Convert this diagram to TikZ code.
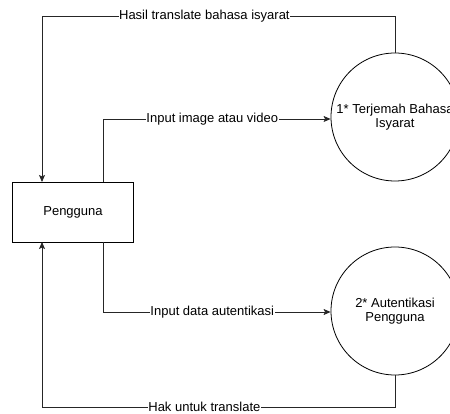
\documentclass[tikz,border=0pt]{standalone}
\usepackage{fontspec}
\setmainfont{Liberation Sans}
\usetikzlibrary{positioning,arrows.meta}
\tikzset{entity node/.style={rectangle,draw,line width=0.8pt,minimum width=121pt,minimum height=60pt,inner sep=0pt},
  process node/.style={circle,draw,line width=0.8pt,minimum size=128pt,inner sep=0pt,align=center},
  flow/.style={draw=black!85,line width=0.8pt},
  flow arrow/.style={flow,-{Stealth[length=7pt,width=6pt,inset=1.5pt]}},
  flow label/.style={fill=white,inner sep=0.5pt,font=\fontsize{13}{14}\selectfont}}

\begin{document}
\begin{tikzpicture}[x=1pt,y=-1pt,font=\fontsize{13}{14}\selectfont]
            \useasboundingbox (0,0) rectangle (450,414);
            \node[entity node] (P) at (73,212) {Pengguna};
            \node[process node] (T1) at (395,117) {1* Terjemah Bahasa\\Isyarat};
            \node[process node] (T2) at (395,311) {2* Autentikasi\\Pengguna};
            
            \coordinate (a1) at (42,16);
            \coordinate (b1) at (395,16);
            \coordinate (a2) at (42,407);
            \coordinate (b2) at (395,407);
            \coordinate (c1) at (103,119);
            \coordinate (c2) at (103,312);
            \coordinate (d1) at (42,182);
            \coordinate (d2) at (42,242);
            \coordinate (e1) at (103,182);
            \coordinate (e2) at (103,242);
            
            \draw[flow arrow] (T1.north) -- (b1) -- node[flow label,pos=0.54] {Hasil translate bahasa isyarat} (a1) -- (d1);
            \draw[flow arrow] (e1) -- (c1) -- node[flow label,pos=0.48] {Input image atau video} (c1 -| T1.west);
            \draw[flow arrow] (e2) -- (c2) -- node[flow label,pos=0.48] {Input data autentikasi} (c2 -| T2.west);
            \draw[flow arrow] (T2.south) -- (b2) -- node[flow label,pos=0.54] {Hak untuk translate} (a2) -- (d2);
        \end{tikzpicture}
\end{document}
